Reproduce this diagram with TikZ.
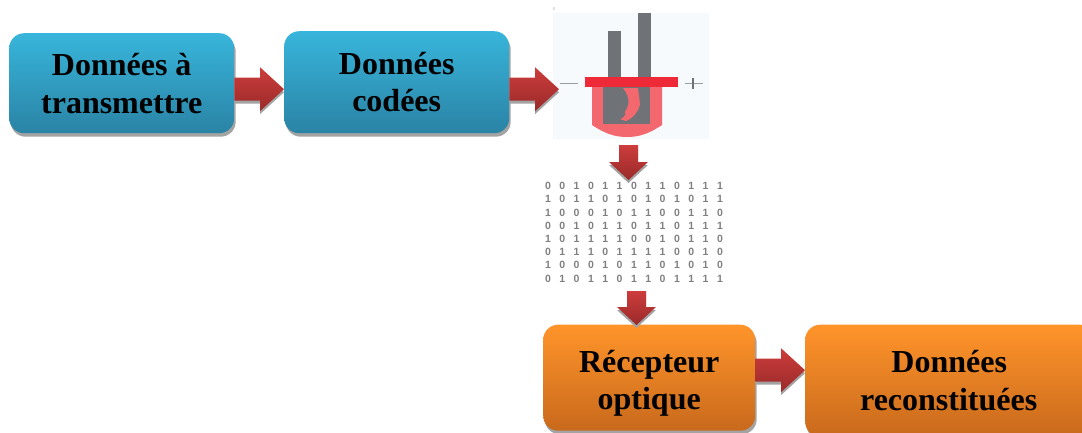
\documentclass[tikz,border=0pt]{standalone}
\usepackage{fontspec}
\setmainfont{Liberation Serif}
\setsansfont{Liberation Sans}
\usetikzlibrary{calc,shadows}
\definecolor{bluetop}{HTML}{38B5DB}
\definecolor{bluebot}{HTML}{2A83A5}
\definecolor{orgtop}{HTML}{FF942A}
\definecolor{orgbot}{HTML}{C8691C}
\definecolor{arrtop}{HTML}{CC3D3B}
\definecolor{arrbot}{HTML}{9A2A2A}
\definecolor{shadowgrey}{HTML}{A3A3A3}
\definecolor{barpink}{HTML}{F2686E}
\definecolor{lidred}{HTML}{EE2A38}
\definecolor{bargrey}{HTML}{6F7378}
\definecolor{iconbg}{HTML}{F7FAFC}
\tikzset{
  box/.style={rounded corners=15pt,inner sep=0pt,align=center,anchor=north west,
    font=\fontsize{32}{37.5}\selectfont\bfseries,text=black,
    drop shadow={shadow xshift=1.5pt,shadow yshift=-3.5pt,fill=shadowgrey,opacity=1}},
  bluebox/.style={box,top color=bluetop,bottom color=bluebot},
  orangebox/.style={box,top color=orgtop,bottom color=orgbot},
  arrowbody/.style={top color=arrtop,bottom color=arrbot},
  arrowshade/.style={fill=shadowgrey},
  digit/.style={font=\sffamily\bfseries\fontsize{10.5}{10.5}\selectfont,text=black!50,inner sep=0pt}
}
\newcommand{\harrowpath}[2]{%
  let \p1=(#1),\p2=(#2) in
  (\x1,\y1+11.5pt) -- (\x2-24pt,\y1+11.5pt) -- (\x2-24pt,\y1+22pt) -- (\x2,\y1) --
  (\x2-24pt,\y1-22pt) -- (\x2-24pt,\y1-11.5pt) -- (\x1,\y1-11.5pt) -- cycle}
\newcommand{\harrow}[2]{%
  \path[arrowshade] \harrowpath{$(#1)+(0,3)$}{$(#2)+(0,3)$};
  \path[arrowbody] \harrowpath{#1}{#2};}
\newcommand{\varrowpath}[2]{%
  let \p1=(#1),\p2=(#2) in
  (\x1-9.5pt,\y1) -- (\x1+9.5pt,\y1) -- (\x1+9.5pt,\y2+18pt) -- (\x1+19.5pt,\y2+18pt) -- (\x1,\y2) --
  (\x1-19.5pt,\y2+18pt) -- (\x1-9.5pt,\y2+18pt) -- cycle}
\newcommand{\varrow}[2]{%
  \path[arrowshade] \varrowpath{$(#1)+(0,3)$}{$(#2)+(0,3)$};
  \path[arrowbody] \varrowpath{#1}{#2};}
\begin{document}
\begin{tikzpicture}[x=1pt,y=-1pt]
\useasboundingbox (0,0) rectangle (1082,432);
% emitter icon
\fill[black!12] (552.5,7) rectangle (555,10);
\fill[iconbg] (553,13) rectangle (709,139);
\fill[bargrey] (608,31) rectangle (621,80);
\fill[bargrey] (638,13) rectangle (651,80);
\fill[barpink] (592,85) -- (662,85) -- (662,125) .. controls (650,133) and (640,137) .. (627,137)
  .. controls (614,137) and (604,133) .. (592,125) -- cycle;
\fill[bargrey] (603,87) rectangle (650,124);
\fill[barpink] (623,88) .. controls (631,98) and (629,106) .. (625,112)
  .. controls (627,115) and (622,119) .. (620,119) -- (626,121)
  .. controls (634,118) and (639,110) .. (640,104) -- (638,88) -- cycle;
\fill[lidred] (585,77) rectangle (678,87);
\draw[bargrey!70,line width=1pt] (560,83) -- (578,83);
\draw[bargrey!70,line width=1pt] (685,83) -- (703,83);
\draw[bargrey,line width=1.2pt] (693,78) -- (693,89);
% binary pattern
\foreach \row [count=\r from 0] in {
  {0,0,1,0,1,1,0,1,1,0,1,1,1},{1,0,1,1,0,1,0,1,0,1,0,1,1},
  {1,0,0,0,1,0,1,1,0,0,1,1,0},{0,0,1,0,1,1,0,1,1,0,1,1,1},
  {1,0,1,1,1,1,0,0,1,0,1,1,0},{0,1,1,1,0,1,1,1,1,0,0,1,0},
  {1,0,0,0,1,0,1,1,0,1,0,1,0},{0,1,0,1,1,0,1,1,0,1,1,1,1}}{
  \foreach \d [count=\c from 0] in \row {
    \node[digit] (d\r-\c) at ({548+14.33*\c},{186+13.2*\r}) {\d};
  }
}
% boxes
\node[bluebox,minimum width=225pt,minimum height=100pt] (src) at (9,33) {Données à\\[0.5pt]transmettre};
\node[bluebox,minimum width=225pt,minimum height=102pt] (coded) at (284,31) {Données\\codées};
\node[orangebox,minimum width=212pt,minimum height=106pt] (recv) at (543,324.5) {\rule{0pt}{33pt}Récepteur\\optique};
\node[orangebox,minimum width=290pt,minimum height=112pt,text width=285pt] (out) at (805,324.5) {\rule{0pt}{22pt}\hspace*{-2pt}Données\\\hspace*{-3pt}reconstituées};
% anchors in the picture
\coordinate (icon) at (559,89);
\coordinate (iconb) at (628.5,145);
\coordinate (bits) at (628.5,180);
\coordinate (bitsb) at (636.5,291);
% connectors
\harrow{$(src.east)+(0,6)$}{$(coded.west)+(0,7)$}
\harrow{$(coded.east)+(0,7)$}{icon}
\varrow{iconb}{bits}
\varrow{bitsb}{$(recv.north -| bitsb)+(0,0.5)$}
\harrow{$(recv.east)+(0,-7.5)$}{$(out.west)+(0,-10)$}
\end{tikzpicture}
\end{document}
